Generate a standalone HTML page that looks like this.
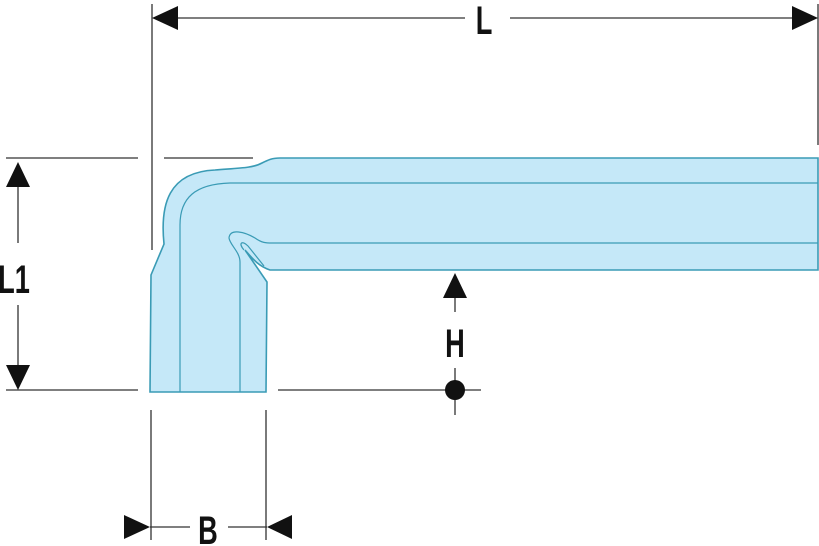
<!DOCTYPE html><html><head><style>body{margin:0;background:#fff}svg{display:block}</style></head><body>
<svg width="819" height="546" viewBox="0 0 819 546" xmlns="http://www.w3.org/2000/svg">
<g stroke="#333" stroke-width="1.3" fill="none">
<line x1="152" y1="4" x2="152" y2="250"/>
<line x1="818" y1="4" x2="818" y2="145"/>
<line x1="178" y1="18" x2="465" y2="18"/>
<line x1="510" y1="18" x2="792" y2="18"/>
<line x1="6" y1="158" x2="138" y2="158"/>
<line x1="164" y1="158" x2="253" y2="158"/>
<line x1="6" y1="390" x2="138" y2="390"/>
<line x1="278" y1="390" x2="481" y2="390"/>
<line x1="18" y1="187" x2="18" y2="243"/>
<line x1="18" y1="305" x2="18" y2="365"/>
<line x1="455" y1="298" x2="455" y2="312"/>
<line x1="455" y1="368" x2="455" y2="415"/>
<line x1="151" y1="410" x2="151" y2="540"/>
<line x1="266" y1="410" x2="266" y2="540"/>
<line x1="150" y1="527" x2="190" y2="527"/>
<line x1="228" y1="527" x2="267" y2="527"/>
</g>
<g fill="#111">
<polygon points="152,18 178,6 178,30"/>
<polygon points="818,18 792,6 792,30"/>
<polygon points="18,162 6,187 30,187"/>
<polygon points="18,390 6,365 30,365"/>
<polygon points="455,273 443,298 467,298"/>
<circle cx="455" cy="390" r="10"/>
<polygon points="150,527 124,515 124,539"/>
<polygon points="267,527 292,515 292,539"/>
</g>
<path d="M150,392 L151,275 L164,244 C160,205 168,172 215,170 C240,168 253,168 262,163 C268,160 272,158 280,158 L818,158 L818,270 L270,270 C258,266 252,258 245,250 L267,282 L266,392 Z" fill="#c5e8f8" stroke="#3a9bb5" stroke-width="1.6"/>
<path d="M180,392 L180,225 C180,198 195,184 230,183 L818,183" fill="none" stroke="#3a9bb5" stroke-width="1.2"/>
<path d="M240,392 L240,262 C240,252 230,245 229,238 C230,228 245,232 255,238 C262,243 266,243 272,243 L818,243" fill="none" stroke="#3a9bb5" stroke-width="1.2"/>
<path d="M244,250 C238,243 242,240 248,246 L264,266" fill="none" stroke="#3a9bb5" stroke-width="1.2"/>
<g font-family="Liberation Sans, sans-serif" font-weight="bold" font-size="40" fill="#111">
<text x="484" y="34" text-anchor="middle" transform="translate(484 0) scale(0.68 1) translate(-484 0)">L</text>
<text x="14" y="293" text-anchor="middle" transform="translate(14 0) scale(0.68 1) translate(-14 0)">L1</text>
<text x="455" y="357" text-anchor="middle" transform="translate(455 0) scale(0.68 1) translate(-455 0)">H</text>
<text x="208" y="544" text-anchor="middle" transform="translate(208 0) scale(0.68 1) translate(-208 0)">B</text>
</g>
</svg>
</body></html>
